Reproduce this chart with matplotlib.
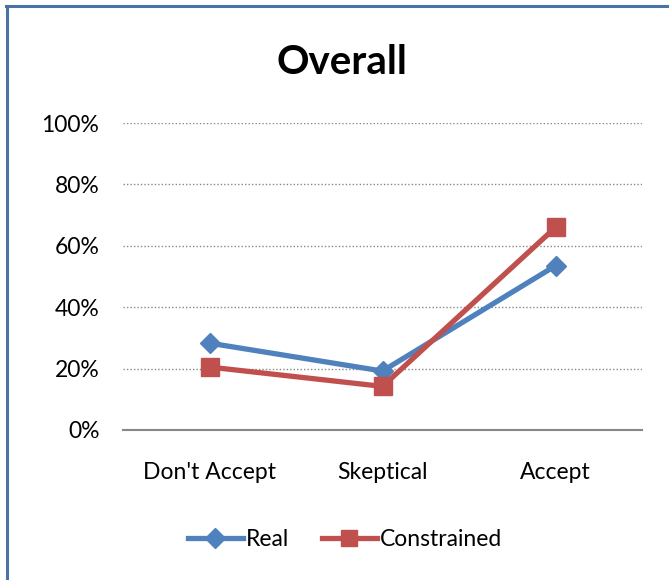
import matplotlib
matplotlib.use("Agg")
import matplotlib.pyplot as plt
from matplotlib.lines import Line2D
from matplotlib.ticker import PercentFormatter

categories = ["Don't Accept", "Skeptical", "Accept"]
real = [0.283, 0.192, 0.535]
constrained = [0.205, 0.142, 0.660]
yticks = [0, 0.2, 0.4, 0.6, 0.8, 1.0]

plt.rcParams['font.family'] = ['Lato', 'DejaVu Sans']

W, H = 669, 580
fig = plt.figure(figsize=(W / 100, H / 100), dpi=100)
ax = fig.add_axes([123 / W, (H - 430) / H, (642 - 123) / W, (430 - 123) / H])

blue = '#4F81BD'
red = '#C0504D'
x = range(len(categories))
ax.plot(x, real, color=blue, lw=3.8, marker='D', ms=10.5, mec=blue, mfc=blue,
        label='Real', zorder=3)
ax.plot(x, constrained, color=red, lw=3.8, marker='s', ms=13, mec=red, mfc=red,
        label='Constrained', zorder=3)

ax.set_xlim(-0.5, 2.5)
ax.set_ylim(0, 1)
ax.set_yticks(yticks)
ax.yaxis.set_major_formatter(PercentFormatter(1.0, decimals=0))
ax.set_xticks(list(x))
ax.set_xticklabels(categories)
ax.tick_params(axis='both', length=0, labelsize=16.5, colors='black')
ax.tick_params(axis='y', pad=17)
ax.tick_params(axis='x', pad=23)

for s in ['top', 'right', 'left']:
    ax.spines[s].set_visible(False)
ax.spines['bottom'].set_color('#888888')
ax.spines['bottom'].set_linewidth(1.5)
ax.yaxis.grid(True, linestyle=(0, (1, 1.5)), color='#888888', lw=1.0)
ax.set_axisbelow(True)

fig.text(342 / W, 1 - 62 / H, 'Overall', ha='center', va='center',
         fontsize=29, fontweight='bold')

handles = [
    Line2D([], [], color=blue, lw=3.8, marker='D', ms=10, mfc=blue, mec=blue),
    Line2D([], [], color=red, lw=3.8, marker='s', ms=12, mfc=red, mec=red),
]
fig.legend(handles, ['Real', 'Constrained'], loc='center',
           bbox_to_anchor=(345 / W, 1 - 540 / H), ncol=2, frameon=False,
           fontsize=16.5, handlelength=2.4, handletextpad=0.15, columnspacing=1.4)

# chart frame: top and left edges
border = '#4A72A6'
fig.add_artist(Line2D([7 / W, 7 / W], [0, 1 - 6 / H], color=border, lw=2.2,
                      transform=fig.transFigure))
fig.add_artist(Line2D([6 / W, 1], [1 - 6 / H, 1 - 6 / H], color=border, lw=2.2,
                      transform=fig.transFigure))

fig.savefig('out.png', dpi=100)
